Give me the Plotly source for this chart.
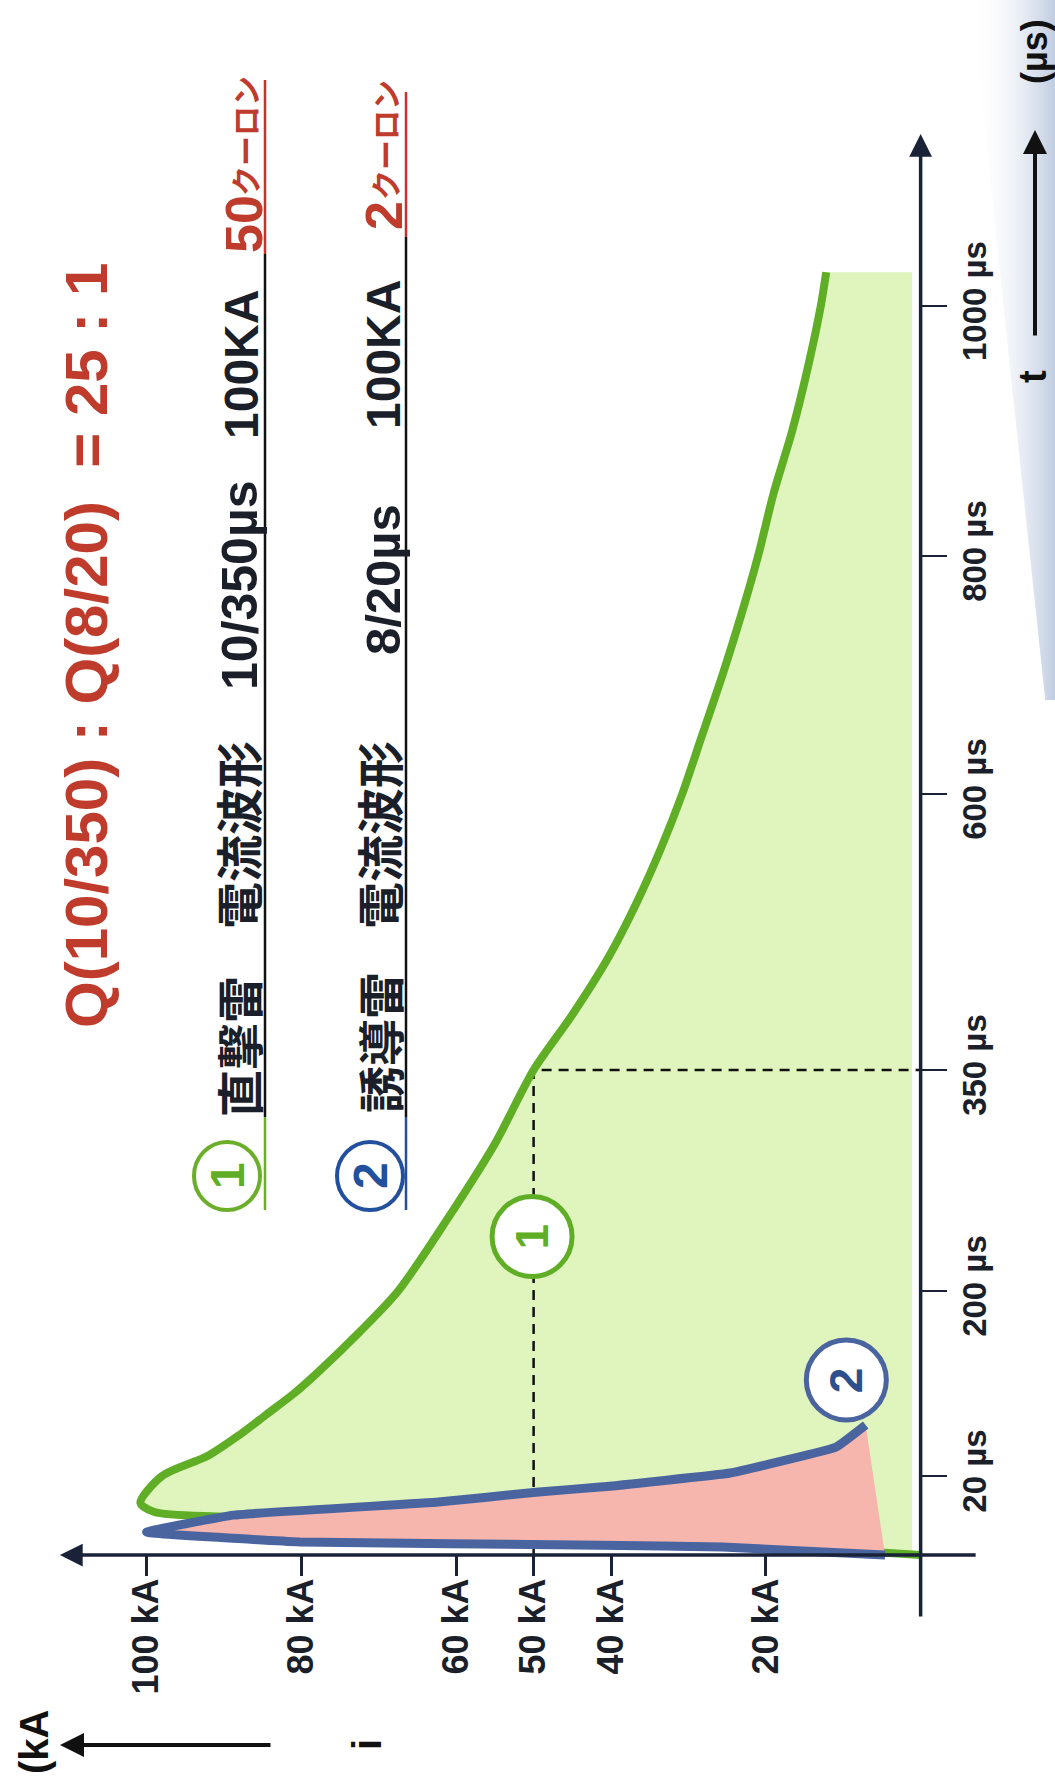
import numpy as np
import plotly.graph_objects as go

# ---------------- data ----------------
T_TICKS = [20, 200, 350, 600, 800, 1000]
T_TICK_TEXT = ["20 µs", "200 µs", "350 µs", "600 µs", "800 µs", "1000 µs"]
I_TICKS = [100, 80, 60, 50, 40, 20]
I_TICK_TEXT = ["100 kA", "80 kA", "60 kA", "50 kA", "40 kA", "20 kA"]

# (1) direct lightning 10/350 us  (time us, current kA)
W1_T = [0, 2.5, 5, 7.5, 9.6, 10.9, 13.2, 20, 40, 60, 80, 100, 120, 160, 200, 250, 300,
        350, 400, 450, 500, 550, 600, 650, 700, 750, 800, 850, 900, 950, 1000, 1027]
W1_I = [0, 20, 45, 72, 89.6, 99, 100.8, 98, 92, 88, 84.5, 81, 78, 72.5, 67.5, 61, 55,
        50, 45, 40.5, 36.8, 33.6, 30.8, 28.2, 25.6, 23.2, 21, 19, 16.6, 14.6, 12.9, 12.2]

# (2) induced lightning 8/20 us
W2_T = [0, 2.0, 2.5, 3.3, 5.8, 10.1, 13.4, 15.9, 17.2, 22.9, 48.2, 69.6]
W2_I = [4.6, 25.6, 41.4, 80.2, 100, 88.8, 62.3, 49.7, 41.4, 24.6, 10.9, 7.1]

HALF_T = 350      # us, half value of wave 1
HALF_I = 50       # kA

# ---------------- hand-drawn time axis scale (piecewise) ----------------
SCALE_T = [0, 20, 200, 350, 600, 800, 1000]
SCALE_W = [0, 79, 264, 485, 761, 999, 1249]


def warp(t):
    t = np.asarray(t, dtype=float)
    w = np.interp(t, SCALE_T, SCALE_W)
    return np.where(t > 1000, 1249 + (t - 1000) * 1.25, w)


W_PX = 1055
H_PX = 1787


def px(x):
    return x / W_PX


def py(y):
    return 1 - y / H_PX


LAT = "Liberation Sans, Arial, sans-serif"
JP = "Noto Sans CJK JP, Liberation Sans, sans-serif"
AXC = "#1a2238"
GREEN = "#5fae26"
GREEN_FILL = "#e0f4bd"
BLUE = "#4a64a0"
PINK = "#f6b6ae"
RED = "#bf3b2b"
DARK = "#1b1f2a"
CBLUE = "#22509e"

X_RANGE = [118.94, -17.36]
Y_RANGE = [-232, 1555]

fig = go.Figure()

# faint scan shading at the top-right edge
fig.add_trace(go.Scatter(
    x=[-6.5, -17.36, -17.36, -16.1], y=[1555, 1555, 855, 855],
    mode="lines", line=dict(width=0), fill="toself",
    fillgradient=dict(type="horizontal",
                      colorscale=[[0, "rgba(255,255,255,0)"], [1, "rgba(165,182,212,0.7)"]]),
    hoverinfo="skip", showlegend=False))

# green fill
g_x = list(W1_I) + [1.1, 1.1]
g_y = list(warp(W1_T)) + [float(warp(W1_T[-1])), 0.0]
fig.add_trace(go.Scatter(x=g_x, y=g_y, mode="lines", line=dict(width=0),
                         fill="toself", fillcolor=GREEN_FILL, hoverinfo="skip",
                         showlegend=False))
# dashed helper lines
dash = "10px,7px"
fig.add_trace(go.Scatter(x=[HALF_I, HALF_I, 0], y=[0, float(warp(HALF_T)), float(warp(HALF_T))],
                         mode="lines", line=dict(color="#111", width=2.5, dash=dash),
                         hoverinfo="skip", showlegend=False))
# green line
fig.add_trace(go.Scatter(x=W1_I, y=warp(W1_T), mode="lines",
                         line=dict(color=GREEN, width=8, shape="spline", smoothing=0.8),
                         showlegend=False))
# pink fill
fig.add_trace(go.Scatter(x=W2_I, y=warp(W2_T), mode="lines", line=dict(width=0),
                         fill="toself", fillcolor=PINK, hoverinfo="skip",
                         showlegend=False))
# blue line
fig.add_trace(go.Scatter(x=W2_I, y=warp(W2_T), mode="lines",
                         line=dict(color=BLUE, width=9, shape="spline", smoothing=0.25),
                         showlegend=False))

# circle markers on chart
fig.add_trace(go.Scatter(x=[50.2], y=warp([237]), mode="markers",
                         marker=dict(size=80, color="white", line=dict(color=GREEN, width=5)),
                         showlegend=False))
fig.add_trace(go.Scatter(x=[9.6], y=warp([113.4]), mode="markers",
                         marker=dict(size=80, color="white", line=dict(color=BLUE, width=5)),
                         showlegend=False))

ann = []
ann.append(dict(x=50.2, y=float(warp(237)), xref="x", yref="y", text="<b>1</b>", showarrow=False,
                textangle=-90, xanchor="center", yanchor="middle",
                font=dict(family=LAT, size=46, color=GREEN)))
ann.append(dict(x=9.6, y=float(warp(113.4)), xref="x", yref="y", text="<b>2</b>", showarrow=False,
                textangle=-90, xanchor="center", yanchor="middle",
                font=dict(family=LAT, size=46, color="#2e4f8e")))

# axes lines with arrows
ann.append(dict(x=111.2, y=0, xref="x", yref="y", ax=-7.3, ay=0, axref="x", ayref="y",
                text="", showarrow=True, arrowhead=2, arrowsize=1.3, arrowwidth=3.5,
                arrowcolor=AXC))
ann.append(dict(x=0, y=1421, xref="x", yref="y", ax=0, ay=-63, axref="x", ayref="y",
                text="", showarrow=True, arrowhead=2, arrowsize=1.3, arrowwidth=3.5,
                arrowcolor=AXC))


def label(xc, yc, txt, size, color=DARK, fam=LAT):
    ann.append(dict(x=px(xc), y=py(yc), xref="paper", yref="paper", text="<b>" + txt + "</b>",
                    showarrow=False, textangle=-90, xanchor="center", yanchor="middle",
                    font=dict(family=fam, size=size, color=color)))


# bottom-left "i" arrow and unit
ann.append(dict(x=px(60), y=py(1745), xref="paper", yref="paper", ax=212, ay=0,
                text="", showarrow=True, arrowhead=2, arrowsize=1.2, arrowwidth=4,
                arrowcolor="#111"))
label(367, 1745, "i", 40, "#111")
label(34, 1742, "(kA", 40, "#111")
# top-right "t" arrow and unit
ann.append(dict(x=px(1035), y=py(130), xref="paper", yref="paper", ax=0, ay=207,
                text="", showarrow=True, arrowhead=2, arrowsize=1.2, arrowwidth=4,
                arrowcolor="#111"))
label(1033, 377, "t", 38, "#111")
label(1034, 52, "(µs)", 36, "#111")

# title ratio
label(86, 646, "Q(10/350) : Q(8/20)\u00a0 = 25 : 1", 60, RED)

# legend line 1
label(237, 1047, "直撃雷", 47, fam=JP)
label(237, 835, "電流波形", 47, fam=JP)
label(240, 585, "10/350µs", 50)
label(241, 365, "100KA", 48)
label(244, 224, "50", 52, RED)
label(244, 136, "クーロン", 30, RED, JP)
# legend line 2
label(378, 1043, "誘導雷", 47, fam=JP)
label(378, 835, "電流波形", 47, fam=JP)
label(383, 580, "8/20µs", 49)
label(384, 355, "100KA", 48)
label(384, 216, "2", 52, RED)
label(384, 140, "クーロン", 30, RED, JP)

# legend circles
for (cx, col, num, ncol) in [(227, "#6aae2a", "1", "#5fae26"), (370, CBLUE, "2", CBLUE)]:
    fig.add_shape(type="circle", xref="paper", yref="paper",
                  x0=px(cx - 33), x1=px(cx + 33), y0=py(1176 + 34), y1=py(1176 - 34),
                  line=dict(color=col, width=4), fillcolor="white")
    label(cx, 1176, num, 48, ncol)

# underlines
for (xu, ytop, yred, ycol, col) in [(265, 80, 254, 1117, "#6aae2a"), (406, 92, 237, 1117, CBLUE)]:
    fig.add_shape(type="line", xref="paper", yref="paper", x0=px(xu), x1=px(xu),
                  y0=py(ytop), y1=py(yred), line=dict(color="#c8322a", width=2.5))
    fig.add_shape(type="line", xref="paper", yref="paper", x0=px(xu), x1=px(xu),
                  y0=py(yred), y1=py(ycol), line=dict(color="#111", width=2.5))
    fig.add_shape(type="line", xref="paper", yref="paper", x0=px(xu), x1=px(xu),
                  y0=py(ycol), y1=py(1210), line=dict(color=col, width=2.5))

fig.update_layout(
    width=W_PX, height=H_PX,
    margin=dict(l=0, r=0, t=0, b=0),
    paper_bgcolor="white", plot_bgcolor="white",
    showlegend=False,
    annotations=ann,
    xaxis=dict(range=X_RANGE, anchor="free", position=(0 - Y_RANGE[0]) / (Y_RANGE[1] - Y_RANGE[0]),
               side="bottom", showgrid=False, zeroline=False, showline=False,
               tickvals=I_TICKS, ticktext=I_TICK_TEXT, ticks="outside", ticklen=20,
               tickwidth=3, tickcolor=AXC, tickangle=-90, ticklabelstandoff=-12,
               tickfont=dict(family=LAT, size=36, color=DARK, weight="bold")),
    yaxis=dict(range=Y_RANGE, anchor="free", position=(X_RANGE[0] - 0) / (X_RANGE[0] - X_RANGE[1]),
               side="right", showgrid=False, zeroline=False, showline=False,
               tickvals=list(warp(T_TICKS)), ticktext=T_TICK_TEXT, ticks="outside", ticklen=25,
               tickwidth=2, tickcolor=AXC, tickangle=-90,
               tickfont=dict(family=LAT, size=33, color=DARK, weight="bold")),
)

fig.write_html("out.html", post_script="document.body.style.margin='0';",
               config={"displayModeBar": False})
